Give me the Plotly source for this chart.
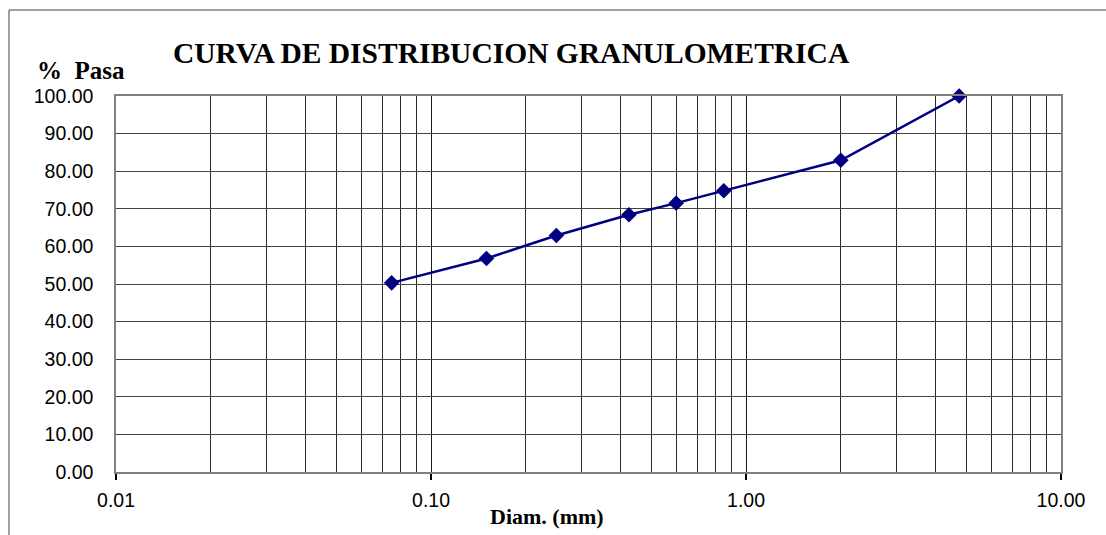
import plotly.graph_objects as go

# Data
diam_mm = [0.075, 0.15, 0.25, 0.425, 0.6, 0.85, 2.0, 4.75]
pct_pasa = [50.3, 56.8, 62.9, 68.4, 71.5, 74.8, 82.9, 100.0]

x_tickvals = [0.01, 0.1, 1, 10]
x_ticktext = ["0.01", "0.10", "1.00", "10.00"]
x_minor = [m * d for d in (0.01, 0.1, 1) for m in range(2, 10)]
y_tickvals = list(range(0, 101, 10))
y_ticktext = [f"{v:.2f}" for v in y_tickvals]

title = "CURVA DE DISTRIBUCION GRANULOMETRICA"
y_title = "%  Pasa"
x_title = "Diam. (mm)"

W, H = 1106, 535
PL, PR, PT, PB = 116, 1061, 96, 472  # plot area in page pixels
L, T, R, B = PL, PT, W - PR, H - PB
pw, ph = PR - PL, PB - PT


def px(x):
    return (x - PL) / pw


def py(y):
    return (PB - y) / ph


fig = go.Figure()
fig.add_trace(go.Scatter(
    x=diam_mm, y=pct_pasa, mode="lines+markers",
    line=dict(color="#000080", width=2.5),
    marker=dict(symbol="diamond", size=12, color="#000080"),
    cliponaxis=False, showlegend=False,
))

fig.update_layout(
    width=W, height=H,
    margin=dict(l=L, r=R, t=T, b=B, pad=0),
    paper_bgcolor="white", plot_bgcolor="white",
    font=dict(family="Liberation Sans, Arial", size=19.5, color="black"),
    xaxis=dict(
        type="log", range=[-2, 1],
        tickvals=x_tickvals, ticktext=x_ticktext,
        showgrid=True, gridcolor="#1a1a1a", gridwidth=1,
        minor=dict(tickvals=x_minor, showgrid=True, gridcolor="#2a2a2a", gridwidth=1, ticks=""),
        showline=True, mirror=True, linecolor="#808080", linewidth=1.5,
        ticks="outside", ticklen=6, tickcolor="black", tickwidth=1.5,
        ticklabelstandoff=4, zeroline=False,
    ),
    yaxis=dict(
        range=[0, 100], tickvals=y_tickvals, ticktext=y_ticktext,
        showgrid=True, gridcolor="#444444", gridwidth=1,
        showline=True, mirror=True, linecolor="#808080", linewidth=1.5,
        ticks="", ticklabelstandoff=17,
        zeroline=True, zerolinecolor="black", zerolinewidth=2,
    ),
    shapes=[
        dict(type="line", xref="paper", yref="paper", x0=px(9), x1=px(9), y0=py(10), y1=py(560),
             line=dict(color="#808080", width=1.5)),
        dict(type="line", xref="paper", yref="paper", x0=px(9), x1=px(1120), y0=py(10), y1=py(10),
             line=dict(color="#808080", width=1.5)),
    ],
    annotations=[
        dict(text=f"<b>{title}</b>", xref="paper", yref="paper", x=px(511), y=py(53),
             xanchor="center", yanchor="middle", showarrow=False,
             font=dict(family="Liberation Serif, Times New Roman", size=29.5, color="black")),
        dict(text=f"<b>{y_title}</b>", xref="paper", yref="paper", x=px(35), y=py(70),
             xanchor="left", yanchor="middle", showarrow=False,
             font=dict(family="Liberation Serif, Times New Roman", size=25, color="black")),
        dict(text=f"<b>{x_title}</b>", xref="paper", yref="paper", x=px(547), y=py(516),
             xanchor="center", yanchor="middle", showarrow=False,
             font=dict(family="Liberation Serif, Times New Roman", size=22, color="black")),
    ],
)

fig.write_html("out.html", config={"displayModeBar": False},
               post_script="document.body.style.margin='0';")
